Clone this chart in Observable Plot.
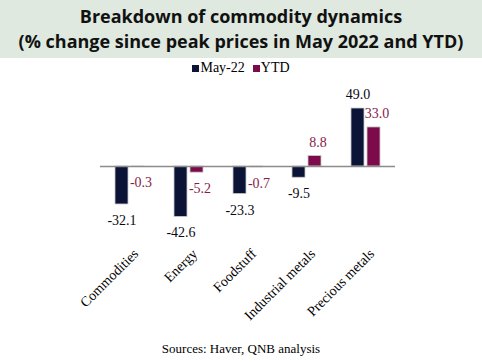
<!DOCTYPE html>
<html>
<head>
<meta charset="utf-8">
<script src="https://cdn.jsdelivr.net/npm/d3@7"></script>
<script src="https://cdn.jsdelivr.net/npm/@observablehq/plot@0.6"></script>
<style>
  html, body { margin: 0; padding: 0; background: #fff; }
  #wrap { width: 482px; height: 362px; overflow: hidden; position: relative; }
  #title { height: 58px; background: #dfe9df; font-family: "Open Sans", sans-serif; font-weight: 700; font-size: 18px; line-height: 25px; text-align: center; color: #111; box-sizing: border-box; padding-top: 4px; }
  #legend { height: 20px; display: flex; justify-content: center; align-items: center; font-family: "Liberation Serif", serif; font-size: 14px; color: #000; }
  #legend .item { display: flex; align-items: center; margin: 0 4px; }
  #legend .sw { width: 7px; height: 7px; margin-right: 1px; }
  #caption { height: 26px; font-family: "Liberation Serif", serif; font-size: 13px; text-align: center; line-height: 26px; color: #000; }
  svg { display: block; }
</style>
</head>
<body>
<div id="wrap">
  <div id="title">Breakdown of commodity dynamics<br>(% change since peak prices in May 2022 and YTD)</div>
  <div id="legend"></div>
  <div id="chart"></div>
  <div id="caption">Sources: Haver, QNB analysis</div>
</div>
<script>
const categories = ["Commodities", "Energy", "Foodstuff", "Industrial metals", "Precious metals"];
const series = ["May-22", "YTD"];
const may22 = [-32.1, -42.6, -23.3, -9.5, 49.0];
const ytd = [-0.3, -5.2, -0.7, 8.8, 33.0];
const barColors = ["#0b1437", "#7d0a4b"];
const labelColors = ["#0a0a14", "#8a1a4c"];

const values = { "May-22": may22, "YTD": ytd };
const data = categories.flatMap((c, i) => series.map(s => ({ category: c, series: s, value: values[s][i] })));

// legend
const legend = document.getElementById("legend");
series.forEach((s, i) => {
  const item = document.createElement("div");
  item.className = "item";
  const sw = document.createElement("span");
  sw.className = "sw";
  sw.style.background = barColors[i];
  const t = document.createElement("span");
  t.textContent = s;
  item.appendChild(sw); item.appendChild(t);
  legend.appendChild(item);
});

function labels(s, i, positive) {
  return Plot.text(data.filter(d => d.series === s && (positive ? d.value >= 0 : d.value < 0)), {
    fx: "category", x: "series", y: "value",
    text: d => d.value.toFixed(1),
    dy: positive ? -14 : 16,
    dx: s === "YTD" ? 3 : 0,
    fill: labelColors[i],
    fontSize: 14
  });
}

const chart = Plot.plot({
  width: 482,
  height: 258,
  marginTop: 17,
  marginBottom: 99,
  marginLeft: 98,
  marginRight: 85,
  style: { fontFamily: "Liberation Serif, serif", fontSize: "14px", background: "white", color: "#000" },
  fx: { domain: categories, padding: 0, label: null },
  x: { domain: series, paddingInner: 0.18, paddingOuter: 0.85, axis: null },
  y: { domain: [-60, 60], axis: null },
  color: { domain: series, range: barColors },
  marks: [
    Plot.barY(data, { fx: "category", x: "series", y: "value", fill: "series", stroke: "#c9c9c9", strokeWidth: 0.8 }),
    Plot.ruleY([0], { stroke: "#8c8c8c", strokeWidth: 1.5 }),
    ...series.flatMap((s, i) => [labels(s, i, true), labels(s, i, false)]),
    Plot.axisFx({ anchor: "bottom", tickRotate: -45, tickSize: 0, tickPadding: 14, dx: 6, label: null, fontSize: 14 })
  ]
});
document.getElementById("chart").appendChild(chart);
</script>
</body>
</html>
